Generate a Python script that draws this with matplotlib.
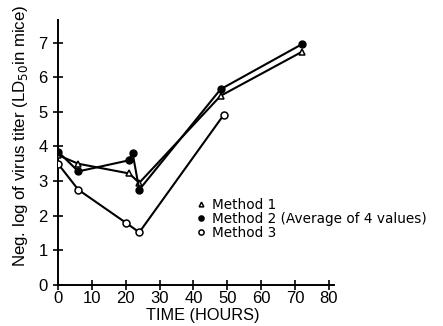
import matplotlib
matplotlib.use("Agg")
import matplotlib.pyplot as plt

plt.rcParams['font.family'] = ['Liberation Sans', 'DejaVu Sans']

m1_t = [0, 6, 21, 24, 48, 72]
m1_v = [3.75, 3.5, 3.22, 2.95, 5.46, 6.73]
m2_t = [0, 6, 21, 22, 24, 48, 72]
m2_v = [3.85, 3.28, 3.6, 3.82, 2.75, 5.65, 6.95]
m3_t = [0, 6, 20, 24, 49]
m3_v = [3.5, 2.75, 1.8, 1.52, 4.92]

x_ticks = [0, 10, 20, 30, 40, 50, 60, 70, 80]
y_ticks = [0, 1, 2, 3, 4, 5, 6, 7]

fig = plt.figure(figsize=(4.43, 3.26), dpi=100)
ax = fig.add_axes([58/443, 41/326, 276/443, 265/326])

lw = 1.5
ax.plot(m1_t, m1_v, color='black', lw=lw, marker='^', ms=4.5, mfc='white', mec='black', mew=1.1, label='Method 1', zorder=3)
ax.plot(m2_t, m2_v, color='black', lw=lw, marker='o', ms=5, mfc='black', mec='black', label='Method 2 (Average of 4 values)', zorder=4)
ax.plot(m3_t, m3_v, color='black', lw=lw, marker='o', ms=5, mfc='white', mec='black', mew=1.1, label='Method 3', zorder=3)

ax.set_xlim(0, 81.5)
ax.set_ylim(0, 7.65)
ax.set_xticks(x_ticks)
ax.set_yticks(y_ticks)
for s in ['top', 'right']:
    ax.spines[s].set_visible(False)
for s in ['left', 'bottom']:
    ax.spines[s].set_linewidth(1.4)
ax.tick_params(direction='inout', length=7, width=1.2, labelsize=12)
ax.tick_params(axis='y', pad=4)
ax.tick_params(axis='x', pad=1)
ax.set_xlabel('TIME (HOURS)', fontsize=11.7)
ax.xaxis.set_label_coords(0.525, -0.085)
ax.set_ylabel('Neg. log of virus titer (LD$_{50}$in mice)', fontsize=12.2)
ax.yaxis.set_label_coords(-0.1, 0.565)

leg = ax.legend(loc='upper left', bbox_to_anchor=(0.5, 0.35), frameon=False,
                handlelength=0, handletextpad=0.8, labelspacing=0.0,
                prop={'family': 'DejaVu Sans', 'size': 9.8},
                borderaxespad=0, markerscale=0.75)
for h in leg.legend_handles:
    h.set_linestyle('none')

fig.savefig('out.png', dpi=100)
